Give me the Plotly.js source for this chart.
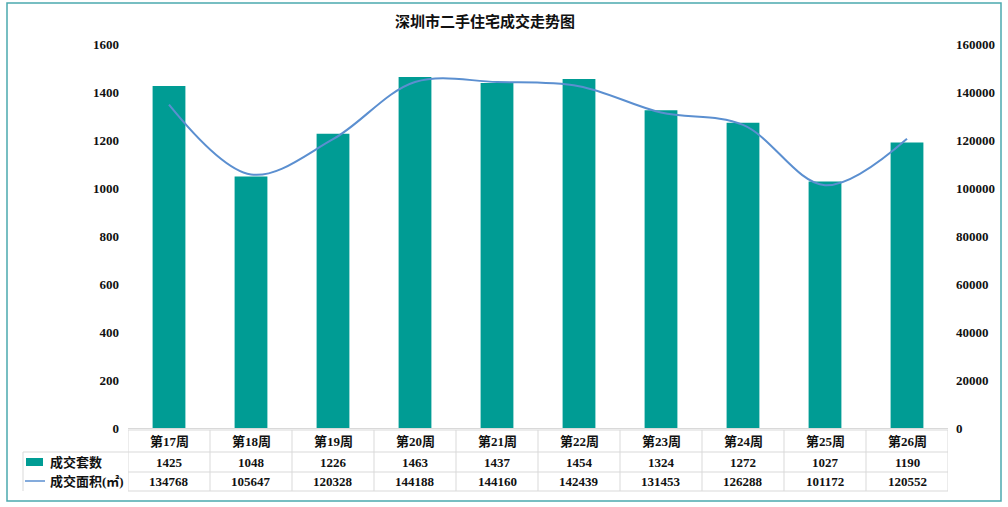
<!DOCTYPE html>
<html><head><meta charset="utf-8">
<script src="https://cdn.plot.ly/plotly-3.0.1.min.js"></script>
<style>html,body{margin:0;padding:0;background:#fff}#chart{width:1008px;height:507px}</style>
</head><body><div id="chart"></div>
<script>
const weeks = ["第17周","第18周","第19周","第20周","第21周","第22周","第23周","第24周","第25周","第26周"];
const units = [1425,1048,1226,1463,1437,1454,1324,1272,1027,1190];
const area = [134768,105647,120328,144188,144160,142439,131453,126288,101172,120552];
const seriesNames = ["成交套数","成交面积(㎡)"];
const chartTitle = "深圳市二手住宅成交走势图";

const barColor = "#009C94";
const lineColor = "#5B8FD0";
const gridCol = "#D9D9D9";
const FONT = "'Liberation Serif', 'Noto Sans CJK SC', serif";

// pixel helpers for table geometry (plot area: x 128..948, y 44..428)
const PH = 384, PW = 820;
const py = p => (428 - p) / PH;
const px = p => (p - 128) / PW;

const shapes = [];
const annotations = [];
const rowY = [py(430), py(452), py(472), py(491)];
shapes.push({type:'line', xref:'paper', yref:'paper', x0:0, x1:1, y0:rowY[0], y1:rowY[0], line:{color:gridCol,width:1}});
for (let i=1;i<4;i++) shapes.push({type:'line', xref:'paper', yref:'paper', x0:(i===1?px(23):0), x1:1, y0:rowY[i], y1:rowY[i], line:{color:gridCol,width:1}});
for (let k=0;k<=weeks.length;k++) shapes.push({type:'line', xref:'x', yref:'paper', x0:k-0.5, x1:k-0.5, y0:rowY[0], y1:rowY[3], line:{color:gridCol,width:1}});
shapes.push({type:'line', xref:'paper', yref:'paper', x0:px(23), x1:px(23), y0:rowY[1], y1:rowY[3], line:{color:gridCol,width:1}});
shapes.push({type:'rect', xref:'paper', yref:'paper', x0:px(26), x1:px(43), y0:py(466), y1:py(458), fillcolor:barColor, line:{width:0}});
shapes.push({type:'line', xref:'paper', yref:'paper', x0:px(25), x1:px(45), y0:py(481), y1:py(481), line:{color:lineColor,width:1.5}});
shapes.push({type:'rect', xref:'paper', yref:'paper', x0:px(7), x1:px(1001), y0:py(501), y1:py(3), line:{color:'#4BA9AE',width:1.5}});

const cellFont = {family:FONT, size:13, color:'#111', weight:'bold'};
const rowsMid = [(rowY[0]+rowY[1])/2, (rowY[1]+rowY[2])/2, (rowY[2]+rowY[3])/2];
weeks.forEach((w,i)=>{
  annotations.push({x:i, xref:'x', y:rowsMid[0], yref:'paper', text:w, showarrow:false, font:cellFont, xanchor:'center', yanchor:'middle'});
  annotations.push({x:i, xref:'x', y:rowsMid[1], yref:'paper', text:String(units[i]), showarrow:false, font:cellFont, xanchor:'center', yanchor:'middle'});
  annotations.push({x:i, xref:'x', y:rowsMid[2], yref:'paper', text:String(area[i]), showarrow:false, font:cellFont, xanchor:'center', yanchor:'middle'});
});
annotations.push({x:px(48), xref:'paper', y:rowsMid[1], yref:'paper', text:seriesNames[0], showarrow:false, font:cellFont, xanchor:'left', yanchor:'middle'});
annotations.push({x:px(48), xref:'paper', y:rowsMid[2], yref:'paper', text:seriesNames[1], showarrow:false, font:cellFont, xanchor:'left', yanchor:'middle'});

const data = [
  {type:'bar', x:weeks.map((_,i)=>i), y:units, name:seriesNames[0], marker:{color:barColor}, width:0.4, yaxis:'y'},
  {type:'scatter', mode:'lines', x:weeks.map((_,i)=>i), y:area, name:seriesNames[1], line:{color:lineColor, width:2, shape:'spline', smoothing:1}, yaxis:'y2'}
];

const layout = {
  width:1008, height:507,
  margin:{l:128, r:60, t:44, b:79},
  paper_bgcolor:'#fff', plot_bgcolor:'#fff',
  showlegend:false,
  title:{text:chartTitle, x:px(485), xref:'paper', xanchor:'center', y:py(22), yref:'paper', yanchor:'middle', font:{family:FONT, size:15, color:'#111', weight:'bold'}},
  xaxis:{range:[-0.5, 9.5], showticklabels:false, ticks:'', showgrid:false, zeroline:false, showline:true, linecolor:gridCol, linewidth:1},
  yaxis:{range:[0,1600], dtick:200, showgrid:false, zeroline:false, showline:false, ticks:'', ticklabelstandoff:8, tickfont:{family:FONT, size:13, color:'#111', weight:'bold'}},
  yaxis2:{range:[0,160000], dtick:20000, tickformat:'d', overlaying:'y', side:'right', showgrid:false, zeroline:false, showline:false, ticks:'', ticklabelstandoff:7, tickfont:{family:FONT, size:13, color:'#111', weight:'bold'}},
  shapes:shapes,
  annotations:annotations
};

Plotly.newPlot('chart', data, layout, {displayModeBar:false, staticPlot:true});
</script>
</body></html>
